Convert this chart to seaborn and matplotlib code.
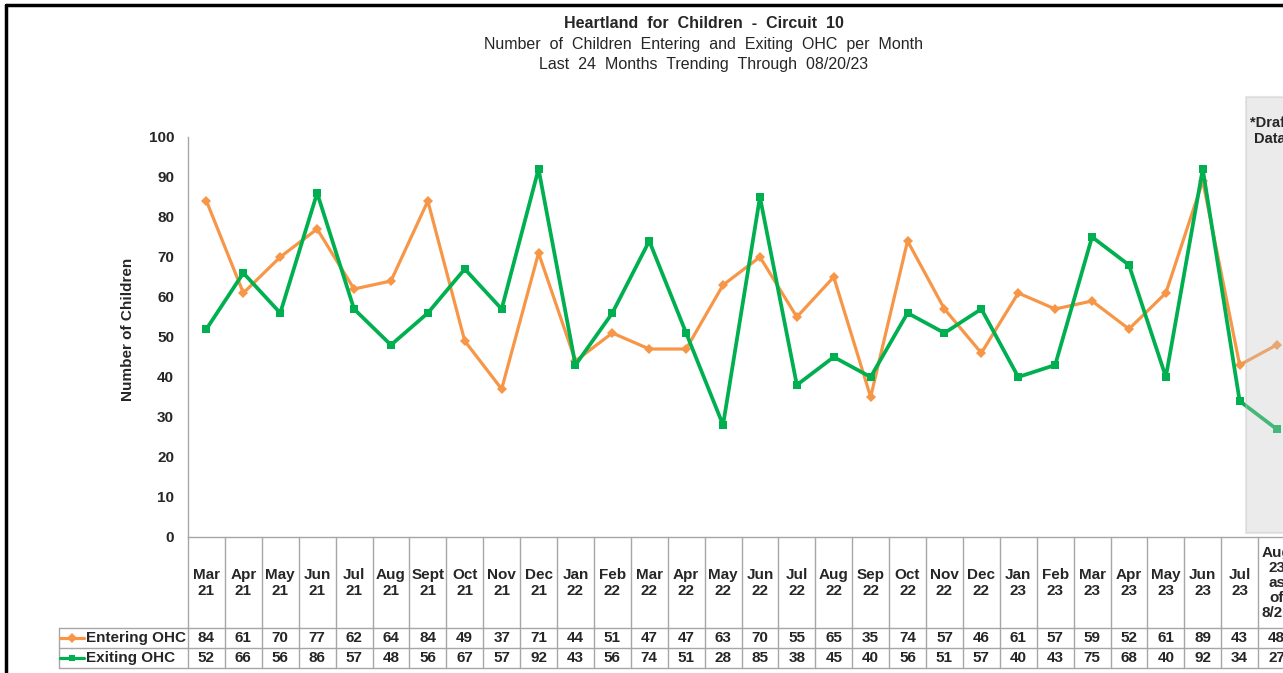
# Entering / exiting OHC line chart with an Excel-style data table underneath
import pandas as pd
import matplotlib
matplotlib.use("Agg")
import matplotlib.pyplot as plt
from matplotlib.lines import Line2D
from matplotlib.patches import Rectangle
import seaborn as sns

months = ["Mar\n21", "Apr\n21", "May\n21", "Jun\n21", "Jul\n21", "Aug\n21", "Sept\n21",
          "Oct\n21", "Nov\n21", "Dec\n21", "Jan\n22", "Feb\n22", "Mar\n22", "Apr\n22",
          "May\n22", "Jun\n22", "Jul\n22", "Aug\n22", "Sep\n22", "Oct\n22", "Nov\n22",
          "Dec\n22", "Jan\n23", "Feb\n23", "Mar\n23", "Apr\n23", "May\n23", "Jun\n23",
          "Jul\n23", "Aug\n23\nas\nof\n8/20"]
entering = [84, 61, 70, 77, 62, 64, 84, 49, 37, 71, 44, 51, 47, 47, 63, 70, 55, 65, 35, 74,
            57, 46, 61, 57, 59, 52, 61, 89, 43, 48]
exiting = [52, 66, 56, 86, 57, 48, 56, 67, 57, 92, 43, 56, 74, 51, 28, 85, 38, 45, 40, 56,
           51, 57, 40, 43, 75, 68, 40, 92, 34, 27]
series_names = ["Entering OHC", "Exiting OHC"]
colors = {"Entering OHC": "#f79646", "Exiting OHC": "#00b050"}

df = pd.DataFrame({"idx": range(len(months)), "Entering OHC": entering, "Exiting OHC": exiting})
df = df.melt(id_vars="idx", var_name="series", value_name="count")

sns.set_style("white")
plt.rcParams["font.family"] = ["Liberation Sans", "DejaVu Sans"]

W, H = 1283, 673
fig = plt.figure(figsize=(W / 100, H / 100), dpi=100)
# plot area in pixels: left 188, right 1295 (cropped), y 137..537
ax = fig.add_axes([188 / W, (H - 537) / H, (1295 - 188) / W, 400 / H])

sns.lineplot(data=df, x="idx", y="count", hue="series", hue_order=series_names,
             style="series", markers={"Entering OHC": "D", "Exiting OHC": "s"},
             dashes=False, palette=colors, legend=False, ax=ax,
             linewidth=2.4, markersize=5.5, markeredgewidth=0)
for ln, lw in zip(ax.lines, [2.3, 2.7]):
    ln.set_linewidth(lw)
    ln.set_clip_on(False)

ax.set_xlim(-0.5, len(months) - 0.5)
ax.set_ylim(0, 100)
ax.set_yticks(range(0, 101, 10))
ax.set_xticks([])
ax.set_xlabel("")
ax.set_ylabel("Number of Children", fontsize=11, fontweight="bold", labelpad=10, y=0.52)
ax.tick_params(axis="y", length=0, pad=10, labelsize=11)
for t in ax.get_yticklabels():
    t.set_fontweight("bold")
for s in ["top", "right"]:
    ax.spines[s].set_visible(False)
for s in ["left", "bottom"]:
    ax.spines[s].set_color("#a6a6a6")
    ax.spines[s].set_linewidth(1)

# draft data box (semi-transparent, over the lines)
tr = ax.get_xaxis_transform()
ax.add_patch(Rectangle((28.17, 0.01), 3, 1.09, transform=tr, facecolor="#c8c8c8",
                       alpha=0.35, edgecolor="#bdbdbd", linewidth=1.5, zorder=5, clip_on=False))
ax.text(28.82, 1.053, "*Draft\nData", transform=tr, ha="center", va="top", fontsize=10.5,
        fontweight="bold", linespacing=1.2, zorder=6, clip_on=False)

# data table
grid = "#a6a6a6"
y_hdr, y_r1, y_r2 = -0.2275, -0.2775, -0.3275
x_leg = -4.0
for k in range(len(months) + 1):
    ax.add_line(Line2D([k - 0.5, k - 0.5], [0, y_r2], transform=tr, color=grid, lw=1, clip_on=False))
ax.add_line(Line2D([x_leg, x_leg], [y_hdr, y_r2], transform=tr, color=grid, lw=1, clip_on=False))
for yy in [y_hdr, y_r1, y_r2]:
    ax.add_line(Line2D([x_leg, len(months) - 0.5], [yy, yy], transform=tr, color=grid, lw=1,
                       clip_on=False))

for i, m in enumerate(months):
    ax.text(i, -0.115, m, transform=tr, ha="center", va="center", fontsize=11,
            fontweight="bold", linespacing=1.1, clip_on=False)
for row_y, name, vals in [(-0.2525, "Entering OHC", entering), (-0.3025, "Exiting OHC", exiting)]:
    for i, v in enumerate(vals):
        ax.text(i, row_y, str(v), transform=tr, ha="center", va="center", fontsize=11,
                fontweight="bold", clip_on=False)
    ax.add_line(Line2D([x_leg + 0.03, x_leg + 0.68], [row_y, row_y], transform=tr,
                       color=colors[name], lw=2.3, clip_on=False))
    ax.add_line(Line2D([x_leg + 0.355], [row_y], transform=tr, color=colors[name],
                       marker="D" if name.startswith("Enter") else "s", markersize=5,
                       markeredgewidth=0, clip_on=False))
    ax.text(x_leg + 0.73, row_y, name, transform=tr, ha="left", va="center", fontsize=11,
            fontweight="bold", clip_on=False)

# titles
fig.text(704 / W, 1 - 23 / H, "Heartland  for  Children  -  Circuit  10", ha="center",
         va="center", fontsize=11.5, fontweight="bold")
fig.text(704 / W, 1 - 44 / H, "Number  of  Children  Entering  and  Exiting  OHC  per  Month",
         ha="center", va="center", fontsize=11.5)
fig.text(704 / W, 1 - 64 / H, "Last  24  Months  Trending  Through  08/20/23",
         ha="center", va="center", fontsize=11.5)

# chart border (cropped on right and bottom)
fig.add_artist(Line2D([6 / W, 6 / W], [0, 1 - 5 / H], transform=fig.transFigure, color="black", lw=2.5))
fig.add_artist(Line2D([6 / W, 1], [1 - 5 / H, 1 - 5 / H], transform=fig.transFigure, color="black", lw=2.5))

fig.savefig("out.png", dpi=100)
